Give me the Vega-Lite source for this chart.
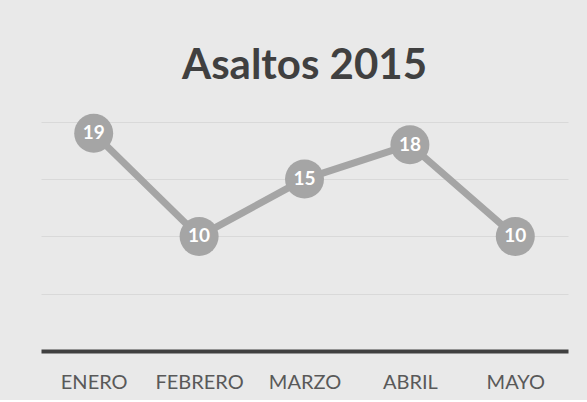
{
  "$schema": "https://vega.github.io/schema/vega-lite/v6.json",
  "width": 527,
  "height": 255,
  "padding": {"left": 41, "top": 45, "right": 19, "bottom": 8},
  "background": "#e9e9e9",
  "config": {"view": {"stroke": null}},
  "title": {
    "text": "Asaltos 2015",
    "font": "Lato",
    "fontWeight": "bold",
    "fontSize": 42,
    "color": "#404040",
    "anchor": "middle",
    "offset": 8
  },
  "data": {
    "values": [
      {"mes": "ENERO", "asaltos": 19},
      {"mes": "FEBRERO", "asaltos": 10},
      {"mes": "MARZO", "asaltos": 15},
      {"mes": "ABRIL", "asaltos": 18},
      {"mes": "MAYO", "asaltos": 10}
    ]
  },
  "encoding": {
    "x": {
      "field": "mes",
      "type": "nominal",
      "sort": null,
      "scale": {"type": "point", "padding": 0.5},
      "axis": {
        "title": null,
        "labelAngle": 0,
        "ticks": false,
        "domain": true,
        "domainColor": "#404040",
        "domainWidth": 4,
        "labelPadding": 21,
        "labelFont": "Lato",
        "labelFontSize": 20,
        "labelColor": "#595959"
      }
    },
    "y": {
      "field": "asaltos",
      "type": "quantitative",
      "scale": {"domain": [0, 22.25], "nice": false},
      "axis": {
        "title": null,
        "values": [5, 10, 15, 20],
        "grid": true,
        "gridColor": "#d9d9d9",
        "gridWidth": 1,
        "labels": false,
        "ticks": false,
        "domain": false
      }
    }
  },
  "layer": [
    {"mark": {"type": "line", "color": "#a5a5a5", "strokeWidth": 7}},
    {"mark": {"type": "circle", "color": "#a5a5a5", "opacity": 1, "size": 1520}},
    {
      "mark": {"type": "text", "color": "#ffffff", "font": "Lato", "fontWeight": "bold", "fontSize": 19, "baseline": "middle", "align": "center"},
      "encoding": {"text": {"field": "asaltos", "type": "quantitative"}}
    }
  ]
}
